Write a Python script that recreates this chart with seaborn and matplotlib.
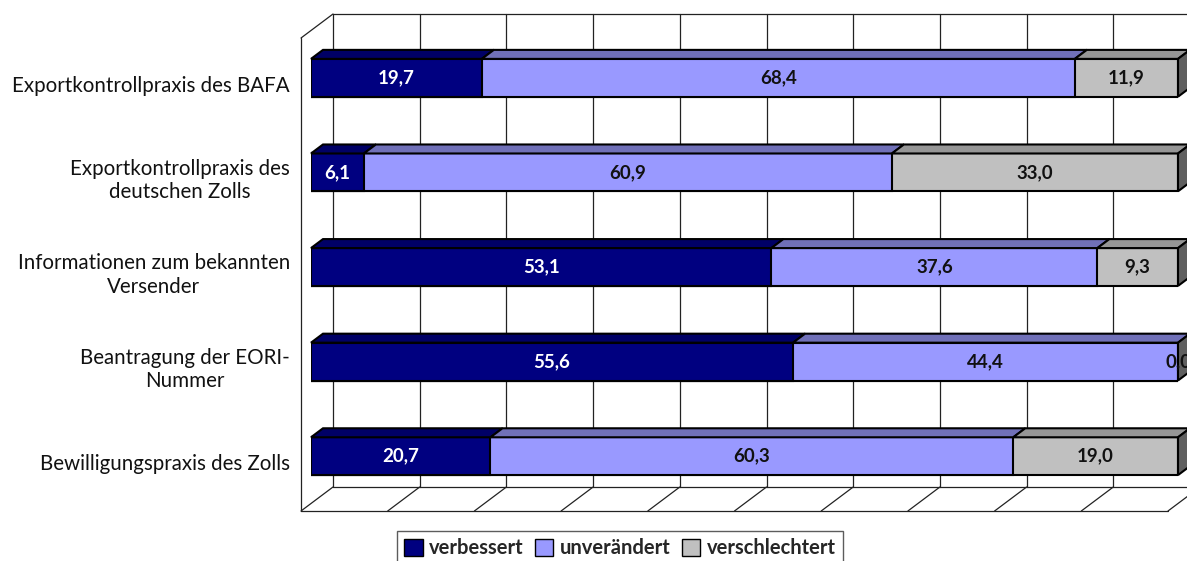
import matplotlib
matplotlib.use("Agg")
import matplotlib.pyplot as plt
import numpy as np
import pandas as pd
import seaborn as sns
from matplotlib.patches import Polygon, Patch

# Data
categories = [
    "Exportkontrollpraxis des BAFA",
    "Exportkontrollpraxis des\ndeutschen Zolls",
    "Informationen zum bekannten\nVersender",
    "Beantragung der EORI-\nNummer",
    "Bewilligungspraxis des Zolls",
]
verbessert = [19.7, 6.1, 53.1, 55.6, 20.7]
unveraendert = [68.4, 60.9, 37.6, 44.4, 60.3]
verschlechtert = [11.9, 33.0, 9.3, 0.0, 19.0]
series_names = ["verbessert", "unverändert", "verschlechtert"]

front_colors = ["#000080", "#9999FF", "#C0C0C0"]
top_colors = ["#000066", "#7070B8", "#969696"]
side_color = "#5F5F5F"
text_colors = ["white", "#111111", "#111111"]

sns.set_style("white")
plt.rcParams["font.family"] = ["Lato", "DejaVu Sans"]

W, H = 1187, 561
fig = plt.figure(figsize=(W / 100, H / 100), dpi=100)
# axes = the plane of the bars' front faces
ax_left, ax_right, ax_top, ax_bottom = 311, 1178, 30.5, 503.5
ax = fig.add_axes([ax_left / W, (H - ax_bottom) / H,
                   (ax_right - ax_left) / W, (ax_bottom - ax_top) / H])

df = pd.DataFrame({"cat": categories, "v1": verbessert, "v2": unveraendert, "v3": verschlechtert})
df["c1"] = df["v1"]
df["c2"] = df["v1"] + df["v2"]
df["c3"] = df["c2"] + df["v3"]

bar_w = 0.40
# stacked via overlapping cumulative bars
for col, colr in zip(["c3", "c2", "c1"], front_colors[::-1]):
    sns.barplot(data=df, x=col, y="cat", orient="h", color=colr, width=bar_w,
                edgecolor="black", linewidth=1.5, saturation=1, ax=ax, zorder=3)

ax.set_xlim(0, 100)
ax.set_ylim(4.5, -0.5)

# pixel -> data conversions
px = 100 / (ax_right - ax_left)
py = 5 / (ax_bottom - ax_top)

# depth offsets (pixels): back wall, front plane, bar depth
BX, BY = 22 * px, 16.5 * py
FX, FY = 10 * px, 7.5 * py
DX, DY = 12 * px, 9 * py

line_kw = dict(color="#222222", lw=0.9, clip_on=False, zorder=1)
ticks = np.arange(0, 101, 10)
for t in ticks:
    ax.plot([t + BX, t + BX], [-0.5 - BY, 4.5 - BY], **line_kw)
    ax.plot([t - FX, t + BX], [4.5 + FY, 4.5 - BY], **line_kw)
ax.plot([BX, 100 + BX], [-0.5 - BY, -0.5 - BY], **line_kw)
ax.plot([BX, 100 + BX], [4.5 - BY, 4.5 - BY], **line_kw)
ax.plot([-FX, -FX], [-0.5 + FY, 4.5 + FY], **line_kw)
ax.plot([-FX, 100 - FX], [4.5 + FY, 4.5 + FY], **line_kw)
ax.plot([-FX, BX], [-0.5 + FY, -0.5 - BY], **line_kw)

# 3D top faces, side faces and value labels
values = np.array([verbessert, unveraendert, verschlechtert]).T
for i in range(len(categories)):
    yt, yb = i - bar_w / 2, i + bar_w / 2
    x0 = 0
    for s in range(3):
        x1 = x0 + values[i, s]
        if values[i, s] > 0:
            ax.add_patch(Polygon([(x0, yt), (x1, yt), (x1 + DX, yt - DY), (x0 + DX, yt - DY)],
                                 closed=True, facecolor=top_colors[s], edgecolor="black",
                                 lw=1.5, clip_on=False, zorder=4))
        ax.text((x0 + x1) / 2, i, f"{values[i, s]:.1f}".replace(".", ","),
                ha="center", va="center", fontsize=13.5, fontweight="bold",
                color=text_colors[s], zorder=6, clip_on=False)
        x0 = x1
    ax.add_patch(Polygon([(100, yt), (100 + DX, yt - DY), (100 + DX, yb - DY), (100, yb)],
                         closed=True, facecolor=side_color, edgecolor="black",
                         lw=1.5, clip_on=False, zorder=4))

# category labels
ax.set_yticks([])
ax.set_xticks([])
ax.set_ylabel("")
ax.set_xlabel("")
for i, cat in enumerate(categories):
    ax.text(-21 * px, i + 8 * py, cat, ha="right", va="center", multialignment="center",
            fontsize=14.8, color="#111111", linespacing=1.2, clip_on=False)

sns.despine(ax=ax, left=True, bottom=True)
ax.patch.set_alpha(0)

handles = [Patch(facecolor=c, edgecolor="black", lw=1) for c in front_colors]
leg = fig.legend(handles, series_names, loc="upper center", ncol=3,
                 bbox_to_anchor=(620 / W, 1 - 521 / H), frameon=True, fancybox=False,
                 edgecolor="#333333", handlelength=0.9, handleheight=0.9,
                 handletextpad=0.3, columnspacing=0.6, borderpad=0.35,
                 prop={"weight": "bold", "size": 14.5})
leg.get_frame().set_linewidth(1.0)

fig.savefig("out.png", dpi=100)
